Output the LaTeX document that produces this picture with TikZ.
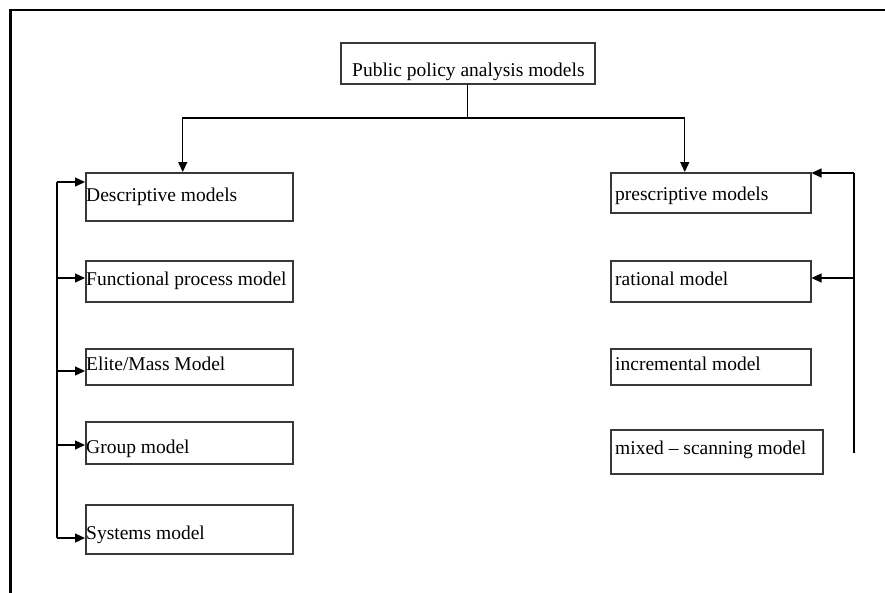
\documentclass[tikz,border=0pt]{standalone}
\usepackage{fontspec}
\setmainfont{Liberation Serif}
\usetikzlibrary{arrows.meta,calc}
\tikzset{
  box/.style={draw=black!78,line width=1.5pt,rectangle,inner sep=0pt,anchor=north west},
  lbl/.style={anchor=base west,inner sep=0pt,font=\fontsize{19.5}{22}\selectfont},
  conn/.style={draw=black,line width=1.3pt},
  arr/.style={conn,-{Triangle[length=10pt,width=9pt]}},
  frame/.style={draw=black,line width=2.6pt}
}
\begin{document}
\begin{tikzpicture}[x=1pt,y=-1pt]
\useasboundingbox (0,0) rectangle (885,592);
\draw[frame] (10.7,600) -- (10.7,9.8) -- (890,9.8);
% top
\node[box,minimum width=254pt,minimum height=41pt] (top) at (340,42) {};
\node[lbl] (topt) at (352,76) {Public policy analysis models};
% left column
\node[box,minimum width=207pt,minimum height=48pt] (d) at (85,172) {};
\node[lbl] (dt) at (86,201) {Descriptive models};
\node[box,minimum width=207pt,minimum height=41pt] (f) at (85,260) {};
\node[lbl] (ft) at (86,285) {Functional process model};
\node[box,minimum width=207pt,minimum height=36pt] (e) at (85,348) {};
\node[lbl] (et) at (86,370) {Elite/Mass Model};
\node[box,minimum width=207pt,minimum height=42pt] (g) at (85,421) {};
\node[lbl] (gt) at (86,453) {Group model};
\node[box,minimum width=207pt,minimum height=49pt] (s) at (85,504) {};
\node[lbl] (st) at (86,539) {Systems model};
% right column
\node[box,minimum width=200pt,minimum height=40pt] (p) at (610,172) {};
\node[lbl] (pt) at (615,200) {prescriptive models};
\node[box,minimum width=200pt,minimum height=41pt] (r) at (610,260) {};
\node[lbl] (rt) at (615,285) {rational model};
\node[box,minimum width=200pt,minimum height=36pt] (i) at (610,348) {};
\node[lbl] (it) at (615,370) {incremental model};
\node[box,minimum width=212pt,minimum height=44pt] (m) at (610,429) {};
\node[lbl] (mt) at (615,454) {mixed -- scanning model};
% top connectors
\coordinate (j) at (top.south |- 0,118);
\draw[conn] (top.south) -- (j);
\draw[arr] (j) -| ([xshift=-6.5pt]d.north);
\draw[arr] (j) -| ([xshift=-26pt]p.north);
% left bus
\coordinate (l1) at (57,182);
\coordinate (l2) at (57,278);
\coordinate (l3) at (57,371);
\coordinate (l4) at (57,445);
\coordinate (l5) at (57,538);
\draw[conn] (l1) -- (l5);
\draw[arr] (l1) -- (l1 -| d.west);
\draw[arr] (l2) -- (l2 -| f.west);
\draw[arr] (l3) -- (l3 -| e.west);
\draw[arr] (l4) -- (l4 -| g.west);
\draw[arr] (l5) -- (l5 -| s.west);
% right bus
\coordinate (r1) at (854,173);
\coordinate (r2) at (854,278);
\coordinate (r3) at (854,453);
\draw[conn] (r3) -- (r1);
\draw[arr] (r1) -- (r1 -| p.east);
\draw[arr] (r2) -- (r2 -| r.east);
\end{tikzpicture}
\end{document}
